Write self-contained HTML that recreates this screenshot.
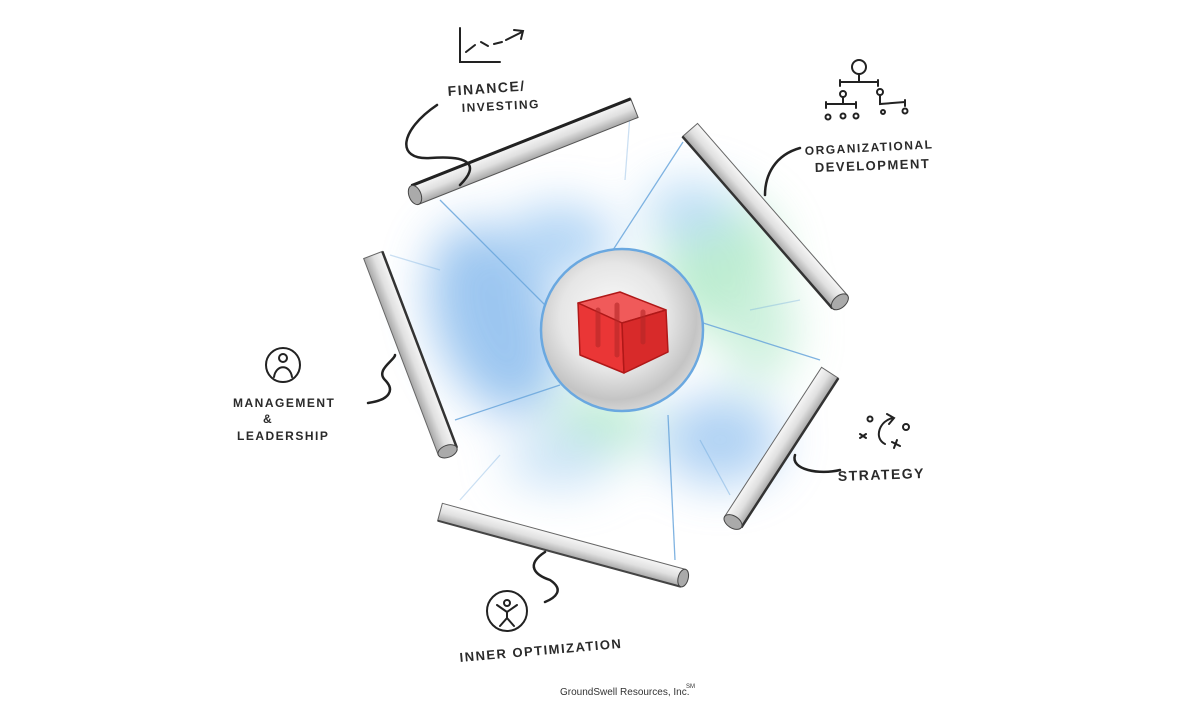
<!DOCTYPE html>
<html><head><meta charset="utf-8"><style>
html,body{margin:0;padding:0;background:#fff;}
svg{display:block}
.t{font-family:"Liberation Sans",sans-serif;font-size:14px;fill:#2a2a2a;letter-spacing:1.5px;font-weight:bold}
</style></head><body>
<svg width="1200" height="720" viewBox="0 0 1200 720" xmlns="http://www.w3.org/2000/svg">
<defs>
<filter id="blur" x="-50%" y="-50%" width="200%" height="200%"><feGaussianBlur stdDeviation="24"/></filter>
<radialGradient id="sph" cx="45%" cy="42%" r="60%">
<stop offset="0" stop-color="#fbfbfb"/><stop offset="0.55" stop-color="#e6e6e6"/><stop offset="0.85" stop-color="#c4c4c4"/><stop offset="1" stop-color="#d8d8d8"/></radialGradient>
<linearGradient id="tube" x1="0" y1="0" x2="0" y2="1">
<stop offset="0" stop-color="#f6f6f6"/><stop offset="0.5" stop-color="#e0e0e0"/><stop offset="1" stop-color="#a8a8a8"/></linearGradient>
</defs>
<!-- haze -->
<g filter="url(#blur)" opacity="0.6">
<ellipse cx="495" cy="320" rx="60" ry="100" fill="#5aa0e6" transform="rotate(-20 495 320)"/>
<ellipse cx="560" cy="240" rx="55" ry="35" fill="#7db8ee"/>
<ellipse cx="720" cy="265" rx="60" ry="70" fill="#8fe0b0"/>
<ellipse cx="690" cy="210" rx="45" ry="28" fill="#8cc4f0"/>
<ellipse cx="760" cy="330" rx="35" ry="55" fill="#a8e6c4"/>
<ellipse cx="720" cy="440" rx="60" ry="45" fill="#7ab4ec"/>
<ellipse cx="600" cy="425" rx="50" ry="35" fill="#90e0b4"/>
<ellipse cx="560" cy="460" rx="55" ry="28" fill="#a8d0f2"/>
</g>
<!-- thin lines -->
<g stroke="#6aa6dc" stroke-width="1.3" fill="none" opacity="0.85">
<line x1="440" y1="200" x2="545" y2="305"/>
<line x1="683" y1="142" x2="600" y2="270"/>
<line x1="700" y1="322" x2="820" y2="360"/>
<line x1="455" y1="420" x2="560" y2="385"/>
<line x1="668" y1="415" x2="675" y2="560"/>
<line x1="630" y1="115" x2="625" y2="180" opacity="0.4"/>
<line x1="800" y1="300" x2="750" y2="310" opacity="0.4"/>
<line x1="700" y1="440" x2="730" y2="495" opacity="0.5"/>
<line x1="460" y1="500" x2="500" y2="455" opacity="0.4"/>
<line x1="390" y1="255" x2="440" y2="270" opacity="0.4"/>
</g>
<!-- sphere -->
<circle cx="622" cy="330" r="81" fill="url(#sph)" stroke="#6aa8e0" stroke-width="2.5"/>
<!-- cube -->
<g stroke="#b01818" stroke-width="1.5" stroke-linejoin="round">
<polygon points="578,303 620,292 666,310 622,323" fill="#f05a5a"/>
<polygon points="578,303 622,323 624,373 580,355" fill="#ea3636"/>
<polygon points="622,323 666,310 668,352 624,373" fill="#d82a2a"/>
</g>
<g stroke="#b52828" stroke-width="5" stroke-linecap="round" opacity="0.6">
<line x1="598" y1="310" x2="598" y2="345"/><line x1="617" y1="305" x2="617" y2="355"/><line x1="643" y1="312" x2="643" y2="342"/>
</g>
<!-- tubes -->
<g>
<g transform="translate(415,195) rotate(-21.6)">
<rect x="0" y="-10" width="236" height="20" fill="url(#tube)" stroke="#555" stroke-width="1"/>
<line x1="0" y1="-10" x2="236" y2="-10" stroke="#222" stroke-width="3"/>
<ellipse cx="0" cy="0" rx="6" ry="10" fill="#aaa" stroke="#444"/>
</g>
<g transform="translate(690,130) rotate(48.9)">
<rect x="0" y="-10" width="228" height="20" fill="url(#tube)" stroke="#666" stroke-width="1"/>
<line x1="0" y1="10" x2="228" y2="10" stroke="#333" stroke-width="2.5"/>
<ellipse cx="228" cy="0" rx="6" ry="10" fill="#aaa" stroke="#444"/>
</g>
<g transform="translate(733,522) rotate(-57)">
<rect x="0" y="-10" width="178" height="20" fill="url(#tube)" stroke="#666" stroke-width="1"/>
<line x1="0" y1="10" x2="178" y2="10" stroke="#333" stroke-width="2.5"/>
<ellipse cx="0" cy="0" rx="6" ry="10" fill="#aaa" stroke="#444"/>
</g>
<g transform="translate(440,512) rotate(15.2)">
<rect x="0" y="-9" width="252" height="18" fill="url(#tube)" stroke="#666" stroke-width="1"/>
<line x1="0" y1="9" x2="252" y2="9" stroke="#444" stroke-width="2"/>
<ellipse cx="252" cy="0" rx="5" ry="9" fill="#aaa" stroke="#444"/>
</g>
<g transform="translate(373,255) rotate(69.2)">
<rect x="0" y="-10" width="210" height="20" fill="url(#tube)" stroke="#666" stroke-width="1"/>
<line x1="0" y1="-10" x2="210" y2="-10" stroke="#333" stroke-width="2.5"/>
<ellipse cx="210" cy="0" rx="6" ry="10" fill="#aaa" stroke="#444"/>
</g>
</g>
<!-- squiggles -->
<g stroke="#222" stroke-width="2.5" fill="none" stroke-linecap="round">
<path d="M437,105 C400,130 395,160 430,158 C470,155 480,165 460,185"/>
<path d="M800,148 C775,155 765,175 765,195"/>
<path d="M368,403 C390,400 395,390 385,380 C375,370 395,360 395,355"/>
<path d="M840,470 C820,475 790,470 795,455"/>
<path d="M545,552 C525,565 535,575 550,580 C565,590 555,598 545,602"/>
</g>
<!-- icons -->
<g stroke="#222" stroke-width="2" fill="none" stroke-linecap="round">
<path d="M460,28 L460,62 L500,62"/>
<path d="M466,52 L475,45 M481,42 L488,46 M494,44 L502,42 M506,40 L522,32 M514,30 L523,31 L521,39"/>
<circle cx="859" cy="67" r="7"/>
<path d="M840,82 L878,82 M840,80 L840,86 M859,74 L859,82 M878,80 L878,86"/>
<circle cx="843" cy="94" r="3"/><circle cx="880" cy="92" r="3"/>
<path d="M826,104 L856,104 M826,102 L826,108 M843,98 L843,104 M856,102 L856,108 M880,96 L880,104 L905,102 M905,100 L905,106"/>
<circle cx="828" cy="117" r="2.5"/><circle cx="843" cy="116" r="2.5"/><circle cx="856" cy="116" r="2.5"/><circle cx="883" cy="112" r="2"/><circle cx="905" cy="111" r="2.5"/>
<circle cx="283" cy="365" r="17"/><circle cx="283" cy="358" r="4"/><path d="M274,377 C276,364 290,364 292,377"/>
<circle cx="870" cy="419" r="2.5"/><circle cx="906" cy="427" r="3"/>
<path d="M860,434 L866,438 M866,434 L860,438 M892,442 L900,446 M897,440 L894,448"/>
<path d="M885,444 C873,438 880,420 893,418 M887,414 L894,418 L889,424"/>
<circle cx="507" cy="611" r="20"/><circle cx="507" cy="603" r="3"/>
<path d="M497,605 L507,612 L517,605 M507,612 L507,618 L500,626 M507,618 L514,626"/>
</g>
<!-- labels -->
<text class="t" x="448" y="96" transform="rotate(-4 448 96)">FINANCE/</text>
<text class="t" x="462" y="112" transform="rotate(-3 462 112)" style="font-size:12px">INVESTING</text>
<text class="t" x="805" y="155" transform="rotate(-3 805 155)" style="font-size:12px">ORGANIZATIONAL</text>
<text class="t" x="815" y="172" transform="rotate(-2 815 172)" style="font-size:13px">DEVELOPMENT</text>
<text class="t" x="233" y="407" style="font-size:12px">MANAGEMENT</text>
<text class="t" x="263" y="423" style="font-size:12px">&amp;</text>
<text class="t" x="237" y="440" style="font-size:12px">LEADERSHIP</text>
<text class="t" x="838" y="481" transform="rotate(-2 838 481)">STRATEGY</text>
<text class="t" x="460" y="662" transform="rotate(-5 460 662)" style="font-size:13px">INNER OPTIMIZATION</text>
<text x="560" y="695" style="font-family:'Liberation Sans',sans-serif;font-size:10px;fill:#333">GroundSwell Resources, Inc.</text>
<text x="686" y="688" style="font-family:'Liberation Sans',sans-serif;font-size:6px;fill:#333">SM</text>
</svg>
</body></html>
